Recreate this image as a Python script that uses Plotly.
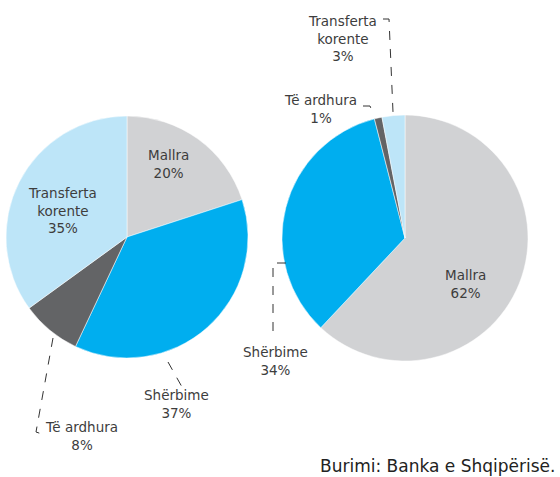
import plotly.graph_objects as go

categories = ["Mallra", "Shërbime", "Të ardhura", "Transferta korente"]
left_values = [20, 37, 8, 35]
right_values = [62, 34, 1, 3]
colors = ["#D1D2D4", "#00AEEF", "#636466", "#BDE5F8"]
source_text = "Burimi: Banka e Shqipërisë."

W, H = 560, 477
FONT = "DejaVu Sans"
TXT = "#3d3d3d"


def px(x):
    return x / W


def py(y):
    return 1 - y / H


fig = go.Figure()
fig.add_trace(go.Pie(
    labels=categories, values=left_values, sort=False, direction="clockwise",
    rotation=0, marker=dict(colors=colors, line=dict(color="white", width=0.5)),
    textinfo="none", hoverinfo="label+percent",
    domain=dict(x=[px(6), px(248)], y=[py(358), py(116)]),
    showlegend=False,
))
fig.add_trace(go.Pie(
    labels=categories, values=right_values, sort=False, direction="clockwise",
    rotation=0, marker=dict(colors=colors, line=dict(color="white", width=0.5)),
    textinfo="none", hoverinfo="label+percent",
    domain=dict(x=[px(282), px(528)], y=[py(361), py(115)]),
    showlegend=False,
))


def label(text, x, y, align="center"):
    fig.add_annotation(text=text, x=px(x), y=py(y), xref="paper", yref="paper",
                       showarrow=False, align=align, xanchor="center", yanchor="middle",
                       font=dict(family=FONT, size=13.5, color=TXT))


def pct(v, s):
    return f"{round(100 * v / s)}%"


ls, rs = sum(left_values), sum(right_values)
label(f"Mallra<br>{pct(left_values[0], ls)}", 168, 164)
label(f"Transferta<br>korente<br>{pct(left_values[3], ls)}", 62, 210)
label(f"Shërbime<br>{pct(left_values[1], ls)}", 176, 404)
label(f"Të ardhura<br>{pct(left_values[2], ls)}", 81, 436)
label(f"Mallra<br>{pct(right_values[0], rs)}", 465, 284)
label(f"Shërbime<br>{pct(right_values[1], rs)}", 275, 361)
label(f"Të ardhura<br>{pct(right_values[2], rs)}", 320, 109)
label(f"Transferta<br>korente<br>{pct(right_values[3], rs)}", 342, 39)


def leader(points):
    path = "M " + " L ".join(f"{px(x)},{py(y)}" for x, y in points)
    fig.add_shape(type="path", path=path, xref="paper", yref="paper",
                  line=dict(color="#333333", width=1, dash="dash"))


leader([(168, 362), (182, 387)])
leader([(53, 338), (36, 432), (42, 434)])
leader([(286, 263), (273, 263), (273, 333)])
leader([(363, 106), (370, 106), (374, 116)])
leader([(383, 19), (389, 19), (393, 112)])

fig.add_annotation(text=source_text, x=px(318), y=py(466), xref="paper", yref="paper",
                   showarrow=False, xanchor="left", yanchor="middle",
                   font=dict(family=FONT, size=17, color="#222222"))

fig.update_layout(width=W, height=H, margin=dict(l=0, r=0, t=0, b=0),
                  paper_bgcolor="white", plot_bgcolor="white")
fig.write_html("out.html", config={"displayModeBar": False},
               post_script="document.body.style.margin='0';document.body.style.overflow='hidden';")
